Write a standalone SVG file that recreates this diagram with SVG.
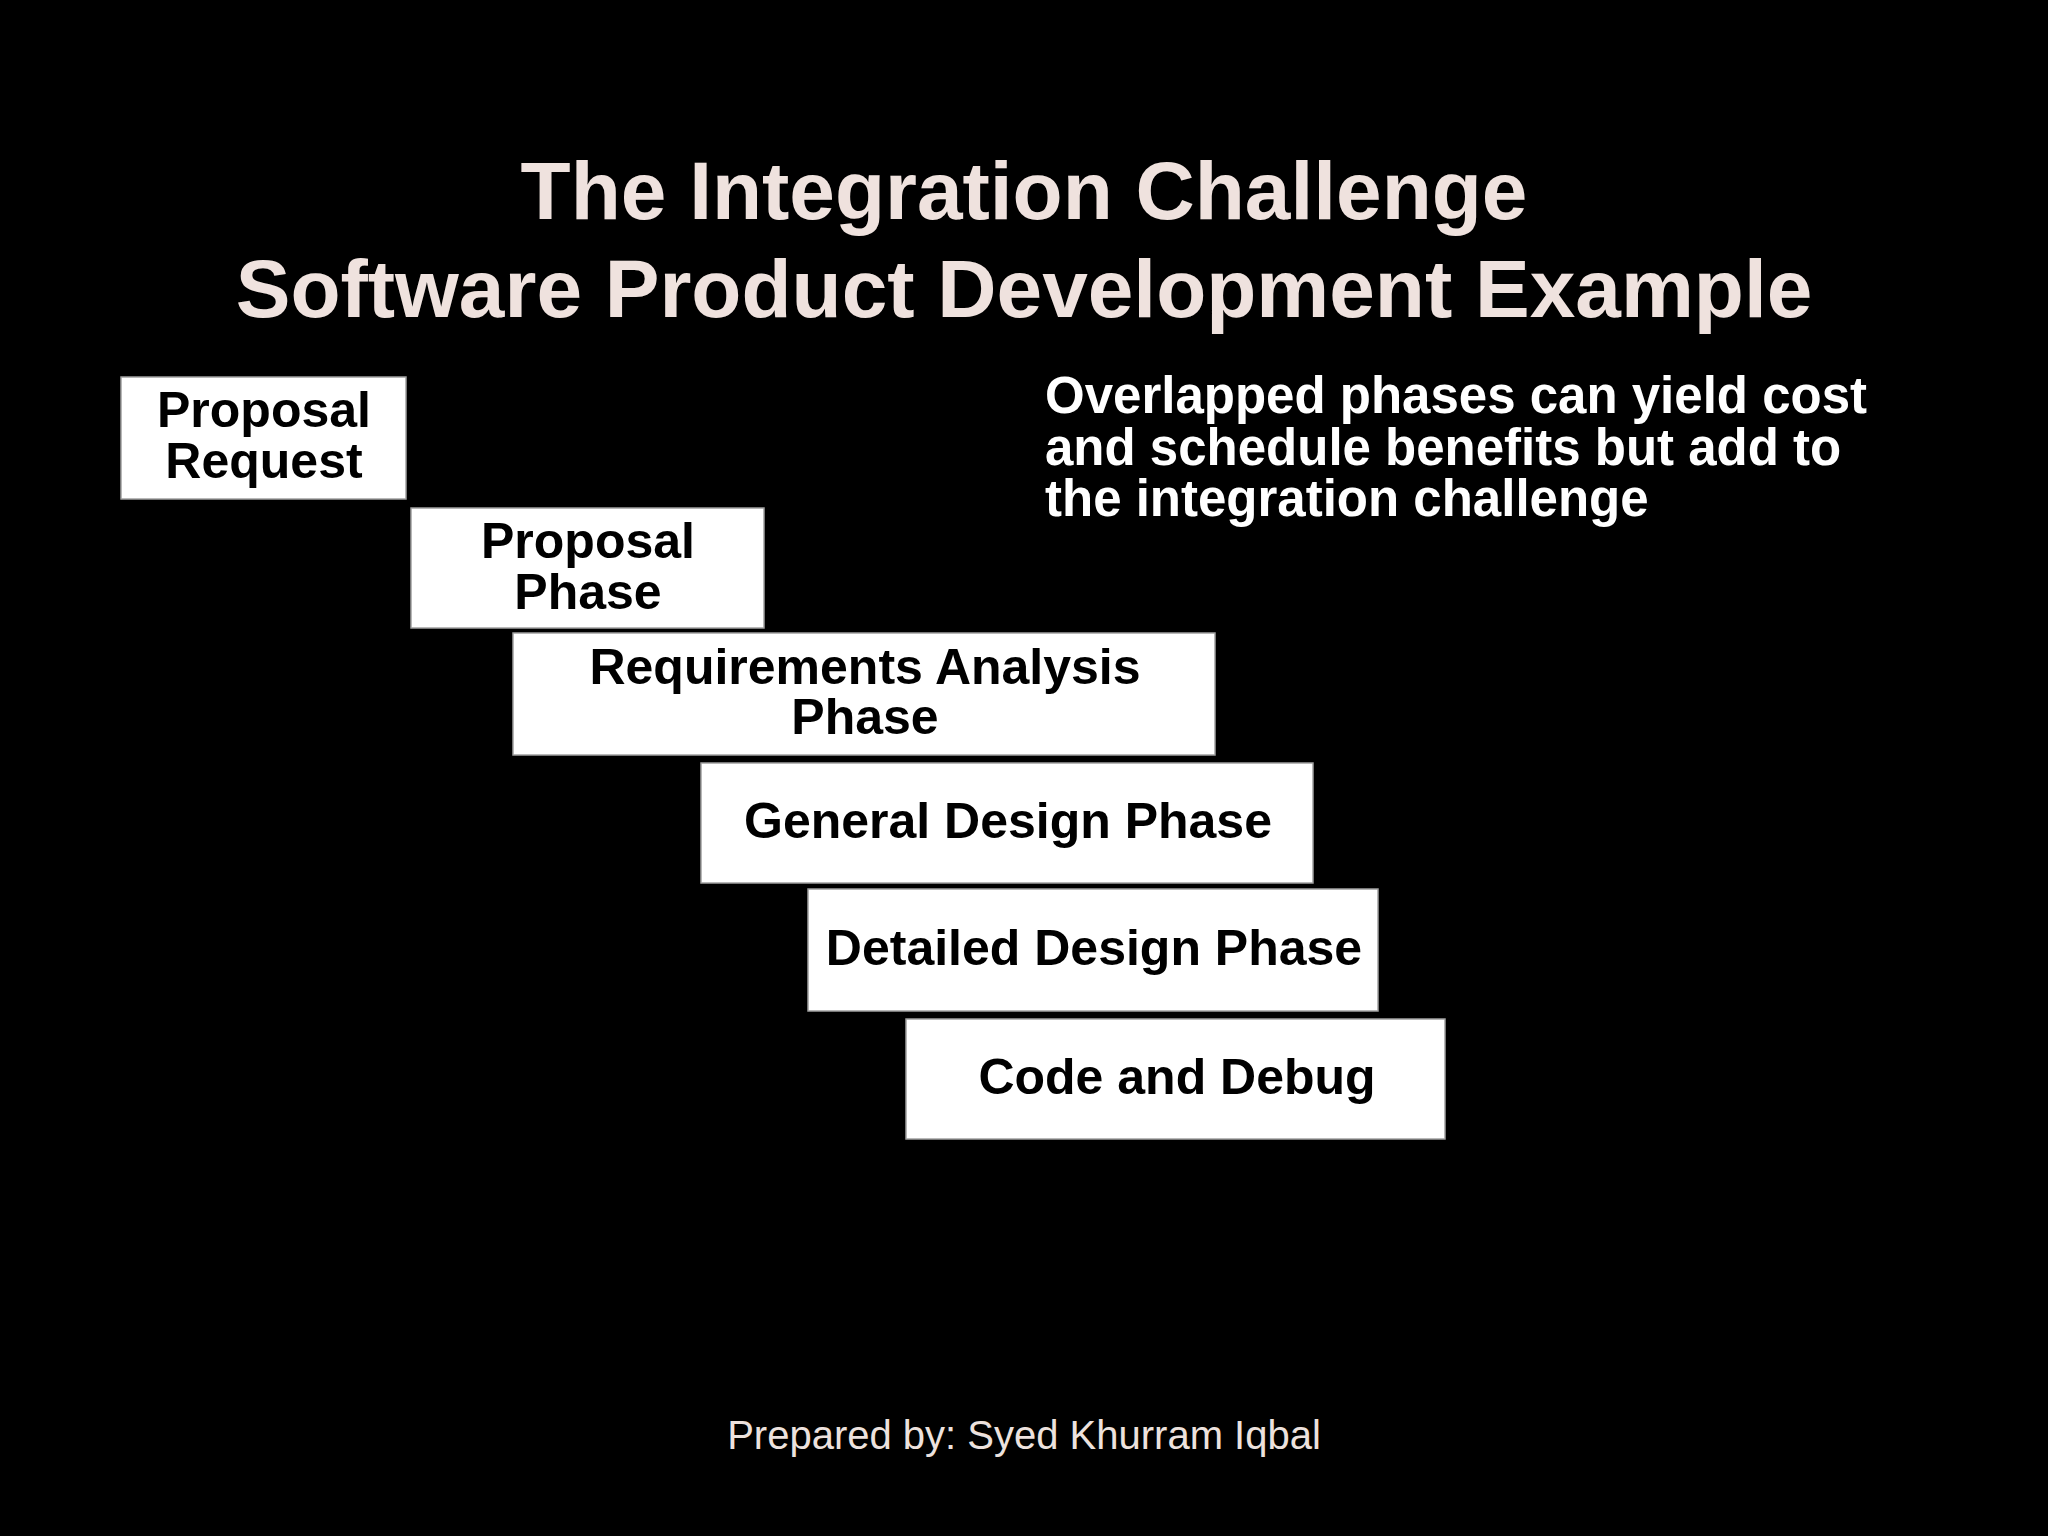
<svg xmlns="http://www.w3.org/2000/svg" width="2048" height="1536" viewBox="0 0 2048 1536">
<style>
.title{font-family:"Liberation Sans",Arial,sans-serif;font-weight:bold;font-size:82px;fill:#EFE2DE;text-anchor:middle}
.box{fill:#FFFFFF;stroke:#A0A0A0;stroke-width:1.5}
.lbl{font-family:"Liberation Sans",Arial,sans-serif;font-weight:bold;font-size:50px;fill:#000;text-anchor:middle}
.note{font-family:"Liberation Sans",Arial,sans-serif;font-weight:bold;font-size:51px;fill:#FFFFFF}
.foot{font-family:"Liberation Sans",Arial,sans-serif;font-size:40px;fill:#EDE2DE;text-anchor:middle}
</style>
<rect x="0" y="0" width="2048" height="1536" fill="#000000"/>
<text class="title" x="1024" y="219">The Integration Challenge</text>
<text class="title" x="1024" y="317">Software Product Development Example</text>
<g id="proposal-request">
<rect class="box" x="121" y="377" width="285" height="122"/>
<text class="lbl" x="264" y="427">Proposal</text>
<text class="lbl" x="264" y="478">Request</text>
</g>
<g id="proposal-phase">
<rect class="box" x="411" y="508" width="353" height="120"/>
<text class="lbl" x="588" y="558">Proposal</text>
<text class="lbl" x="588" y="609">Phase</text>
</g>
<g id="requirements-analysis">
<rect class="box" x="513" y="633" width="702" height="122"/>
<text class="lbl" x="865" y="684">Requirements Analysis</text>
<text class="lbl" x="865" y="734">Phase</text>
</g>
<g id="general-design">
<rect class="box" x="701" y="763" width="612" height="120"/>
<text class="lbl" x="1008" y="838">General Design Phase</text>
</g>
<g id="detailed-design">
<rect class="box" x="808" y="889" width="570" height="122"/>
<text class="lbl" x="1094" y="965">Detailed Design Phase</text>
</g>
<g id="code-debug">
<rect class="box" x="906" y="1019" width="539" height="120"/>
<text class="lbl" x="1177" y="1094">Code and Debug</text>
</g>
<g id="connectors"></g>
<g id="note">
<text class="note" x="1045" y="413">Overlapped phases can yield cost</text>
<text class="note" x="1045" y="465">and schedule benefits but add to</text>
<text class="note" x="1045" y="516">the integration challenge</text>
</g>
<text class="foot" x="1024" y="1449">Prepared by: Syed Khurram Iqbal</text>
</svg>
